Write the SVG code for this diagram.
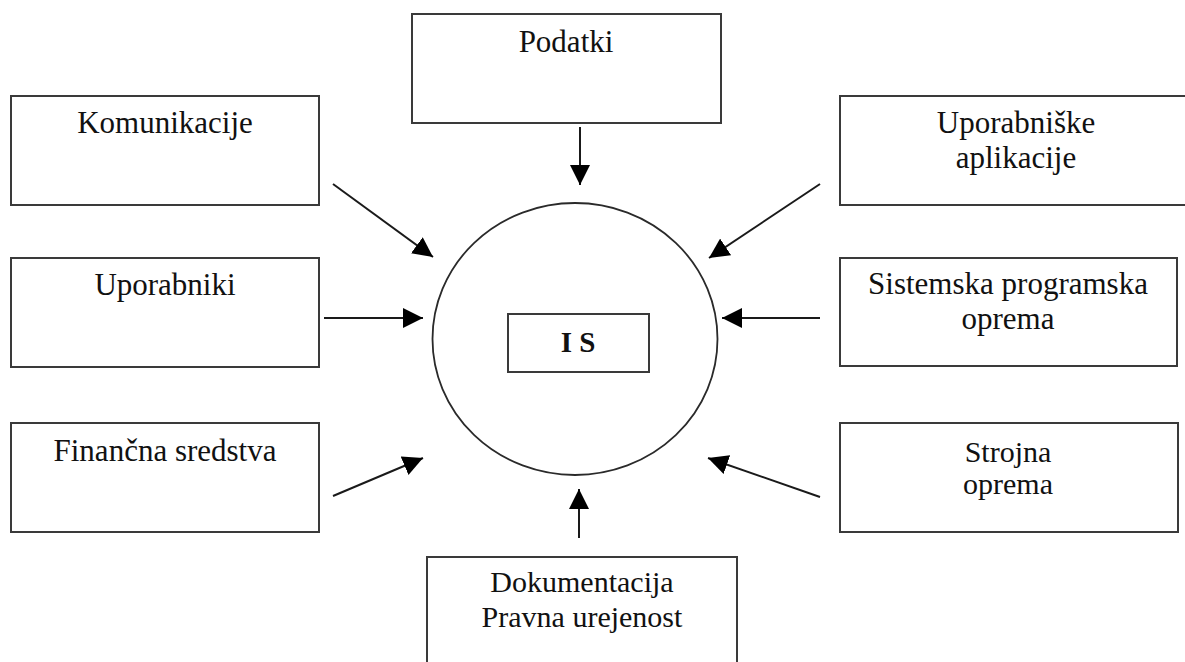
<svg xmlns="http://www.w3.org/2000/svg" width="1185" height="662" viewBox="0 0 1185 662">
  <style>
    .box { fill: #fff; stroke: #3a3a3a; stroke-width: 2; }
    .lbl { font-family: "Liberation Serif", "Times New Roman", serif; font-size: 31px; fill: #111; text-anchor: middle; }
    .tight { font-size: 30px; }
    .core { font-weight: bold; font-size: 29px; }
    .edge { stroke: #1a1a1a; stroke-width: 2; fill: none; marker-end: url(#head); }
  </style>
  <defs>
    <marker id="head" markerUnits="userSpaceOnUse" markerWidth="20" markerHeight="20" refX="20" refY="10" orient="auto" viewBox="0 0 20 20">
      <path d="M0,0 L20,10 L0,20 Z" fill="#000"/>
    </marker>
  </defs>

  <rect width="1185" height="662" fill="#fff"/>

  <!-- central system -->
  <g id="is">
    <ellipse cx="575" cy="339" rx="142.5" ry="136" fill="none" stroke="#2a2a2a" stroke-width="1.8"/>
    <rect class="box" x="508" y="314" width="141" height="58"/>
    <text class="lbl core" x="578" y="352">I S</text>
  </g>

  <g id="podatki">
    <rect class="box" x="412" y="14" width="309" height="109"/>
    <text class="lbl" x="566" y="52">Podatki</text>
  </g>

  <g id="komunikacije">
    <rect class="box" x="11" y="96" width="308" height="109"/>
    <text class="lbl" x="165" y="133">Komunikacije</text>
  </g>

  <g id="uporabniki">
    <rect class="box" x="11" y="258" width="308" height="109"/>
    <text class="lbl" x="165" y="295">Uporabniki</text>
  </g>

  <g id="financna-sredstva">
    <rect class="box" x="11" y="423" width="308" height="109"/>
    <text class="lbl" x="165" y="461">Finančna sredstva</text>
  </g>

  <g id="uporabniske-aplikacije">
    <rect class="box" x="840" y="96" width="352" height="109"/>
    <text class="lbl" x="1016" y="133">Uporabniške</text>
    <text class="lbl" x="1016" y="168">aplikacije</text>
  </g>

  <g id="sistemska-programska-oprema">
    <rect class="box" x="840" y="258" width="337" height="108"/>
    <text class="lbl" x="1008" y="294">Sistemska programska</text>
    <text class="lbl" x="1008" y="329">oprema</text>
  </g>

  <g id="strojna-oprema">
    <rect class="box" x="840" y="423" width="338" height="109"/>
    <text class="lbl tight" x="1008" y="462">Strojna</text>
    <text class="lbl tight" x="1008" y="494">oprema</text>
  </g>

  <g id="dokumentacija">
    <rect class="box" x="427" y="557" width="310" height="130"/>
    <text class="lbl tight" x="582" y="592">Dokumentacija</text>
    <text class="lbl tight" x="582" y="627">Pravna urejenost</text>
  </g>

  <!-- inputs feeding the system -->
  <g id="connectors">
    <line class="edge" x1="580" y1="127" x2="580" y2="185"/>
    <line class="edge" x1="333" y1="184" x2="433" y2="257"/>
    <line class="edge" x1="324" y1="318" x2="423" y2="318"/>
    <line class="edge" x1="333" y1="496" x2="423" y2="458"/>
    <line class="edge" x1="820" y1="184" x2="709" y2="258"/>
    <line class="edge" x1="820" y1="318" x2="722" y2="318"/>
    <line class="edge" x1="820" y1="497" x2="708" y2="458"/>
    <line class="edge" x1="579" y1="538" x2="579" y2="489"/>
  </g>
</svg>
